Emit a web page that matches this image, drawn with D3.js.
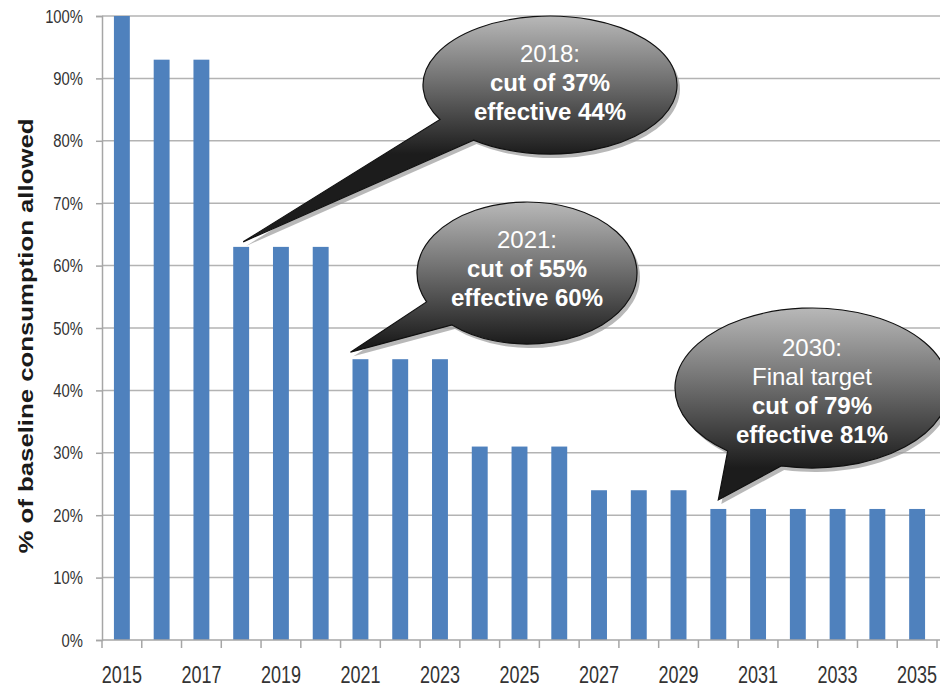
<!DOCTYPE html>
<html>
<head>
<meta charset="utf-8">
<script src="https://cdn.jsdelivr.net/npm/d3@7"></script>
<style>
  body { margin: 0; background: #fff; }
  svg { display: block; }
  .tick-label { font-family: "Liberation Sans", Arial, sans-serif; fill: #333; }
</style>
</head>
<body>
<svg id="chart" width="940" height="689"></svg>
<script>
// data
var years = ["2015","2016","2017","2018","2019","2020","2021","2022","2023","2024",
             "2025","2026","2027","2028","2029","2030","2031","2032","2033","2034","2035"];
var allowed = [100, 93, 93, 63, 63, 63, 45, 45, 45, 31, 31, 31, 24, 24, 24, 21, 21, 21, 21, 21, 21];
var yTicks = [0, 10, 20, 30, 40, 50, 60, 70, 80, 90, 100];
var xLabelYears = ["2015","2017","2019","2021","2023","2025","2027","2029","2031","2033","2035"];

// callout texts (year the arrow points at + lines, bold or not)
var calloutYears = ["2018", "2021", "2030"];
var calloutLines = [
    [["2018:", false], ["cut of 37%", true], ["effective 44%", true]],
    [["2021:", false], ["cut of 55%", true], ["effective 60%", true]],
    [["2030:", false], ["Final target", false], ["cut of 79%", true], ["effective 81%", true]]
];

// balloon geometry (pixels) - kept apart from the data
var balloonLayout = [
    {cx: 550, cy: 85,  rx: 127, ry: 69, a1: 127, a2: 150, tipDx: 2,  tipDy: -5, textTop: 62},
    {cx: 527, cy: 273, rx: 110, ry: 71, a1: 133, a2: 156, tipDx: -10, tipDy: -7, textTop: 248},
    {cx: 812, cy: 388, rx: 137, ry: 80, a1: 103, a2: 128, tipDx: 0,  tipDy: -9, textTop: 356}
];

// squeeze factors for the condensed-looking tick labels
var narrowY = 0.78, narrowX = 0.75;

var margin = {top: 16, left: 102, right: 3, bottom: 49};
var svg = d3.select("#chart");
var W = +svg.attr("width"), H = +svg.attr("height");

var x = d3.scaleBand()
    .domain(years)
    .range([margin.left, W - margin.right])
    .paddingInner(0.6)
    .paddingOuter(0.3);

var y = d3.scaleLinear()
    .domain([0, 100])
    .range([H - margin.bottom, margin.top]);

// gridlines
svg.append("g")
    .selectAll("line")
    .data(yTicks.filter(function(d) { return d > 0; }))
    .enter().append("line")
        .attr("x1", margin.left).attr("x2", W)
        .attr("y1", function(d) { return y(d); })
        .attr("y2", function(d) { return y(d); })
        .attr("stroke", "#b3b3b3")
        .attr("stroke-width", 1.5);

// Y axis
var yAxis = svg.append("g")
    .attr("transform", "translate(" + margin.left + ",0)")
    .call(d3.axisLeft(y).tickValues(yTicks).tickSize(6).tickPadding(13)
        .tickFormat(function(d) { return d + "%"; }));
yAxis.select(".domain").attr("stroke", "#a6a6a6").attr("stroke-width", 1.5);
yAxis.selectAll(".tick line").attr("stroke", "#a6a6a6").attr("stroke-width", 1.5);
yAxis.selectAll(".tick text")
    .attr("class", "tick-label")
    .attr("x", -19 / narrowY)
    .attr("transform", "scale(" + narrowY + ",1)")
    .style("font-size", "19px");

// bars
svg.append("g")
    .selectAll("rect")
    .data(allowed)
    .enter().append("rect")
        .attr("x", function(d, i) { return x(years[i]); })
        .attr("y", function(d) { return y(d); })
        .attr("width", x.bandwidth())
        .attr("height", function(d) { return y(0) - y(d); })
        .attr("fill", "#4f81bd");

// X axis: baseline, ticks between categories, labels every other year
var base = y(0);
var halfGap = (x.step() - x.bandwidth()) / 2;
var edges = years.map(function(d) { return x(d) - halfGap; });
edges.push(x(years[years.length - 1]) + x.bandwidth() + halfGap);

var xAxis = svg.append("g");
xAxis.append("line")
    .attr("x1", margin.left).attr("x2", W)
    .attr("y1", base).attr("y2", base)
    .attr("stroke", "#a6a6a6").attr("stroke-width", 1.5);
xAxis.selectAll(".xt")
    .data(edges)
    .enter().append("line")
        .attr("class", "xt")
        .attr("x1", function(d) { return d; }).attr("x2", function(d) { return d; })
        .attr("y1", base).attr("y2", base + 8)
        .attr("stroke", "#a6a6a6").attr("stroke-width", 1.5);
xAxis.selectAll("text")
    .data(xLabelYears)
    .enter().append("text")
        .attr("class", "tick-label")
        .attr("x", function(d) { return (x(d) + x.bandwidth() / 2) / narrowX; })
        .attr("y", base + 43)
        .attr("transform", "scale(" + narrowX + ",1)")
        .attr("text-anchor", "middle")
        .style("font-size", "24px")
        .text(function(d) { return d; });

// Y axis title
svg.append("text")
    .attr("transform", "translate(33," + ((margin.top + base) / 2 + 8) + ") rotate(-90)")
    .attr("text-anchor", "middle")
    .attr("textLength", 435)
    .attr("lengthAdjust", "spacingAndGlyphs")
    .style("font-family", "'Liberation Sans', Arial, sans-serif")
    .style("font-weight", "bold")
    .style("font-size", "20px")
    .style("fill", "#1a1a1a")
    .text("% of baseline consumption allowed");

// callout balloons
var defs = svg.append("defs");

function balloonPath(b, tip) {
    var r1 = b.a1 * Math.PI / 180, r2 = b.a2 * Math.PI / 180;
    var p1 = [b.cx + b.rx * Math.cos(r1), b.cy + b.ry * Math.sin(r1)];
    var p2 = [b.cx + b.rx * Math.cos(r2), b.cy + b.ry * Math.sin(r2)];
    // go the long way round from p2 to p1, then down to the tip
    return "M" + p2[0] + "," + p2[1] +
        " A" + b.rx + "," + b.ry + " 0 1 1 " + p1[0] + "," + p1[1] +
        " L" + tip[0] + "," + tip[1] + " Z";
}

calloutYears.forEach(function(yr, i) {
    var b = balloonLayout[i];
    var idx = years.indexOf(yr);
    var tip = [x(yr) + x.bandwidth() / 2 + b.tipDx, y(allowed[idx]) + b.tipDy];
    var path = balloonPath(b, tip);

    var grad = defs.append("linearGradient")
        .attr("id", "grad" + i)
        .attr("gradientUnits", "userSpaceOnUse")
        .attr("x1", 0).attr("x2", 0)
        .attr("y1", b.cy - b.ry).attr("y2", b.cy + b.ry);
    grad.append("stop").attr("offset", "0%").attr("stop-color", "#b8b8b8");
    grad.append("stop").attr("offset", "45%").attr("stop-color", "#737373");
    grad.append("stop").attr("offset", "100%").attr("stop-color", "#1c1c1c");

    var g = svg.append("g");
    g.append("path")
        .attr("d", path)
        .attr("transform", "translate(3,4)")
        .attr("fill", "#9a9a9a")
        .attr("opacity", 0.7);
    g.append("path")
        .attr("d", path)
        .attr("fill", "url(#grad" + i + ")")
        .attr("stroke", "#111")
        .attr("stroke-width", 1.2);

    g.selectAll("text")
        .data(calloutLines[i])
        .enter().append("text")
            .attr("x", b.cx)
            .attr("y", function(d, j) { return b.textTop + j * 29; })
            .attr("text-anchor", "middle")
            .style("font-family", "'Liberation Sans', Arial, sans-serif")
            .style("font-size", "24px")
            .style("font-weight", function(d) { return d[1] ? "bold" : "normal"; })
            .style("fill", "#fff")
            .text(function(d) { return d[0]; });
});
</script>
</body>
</html>
